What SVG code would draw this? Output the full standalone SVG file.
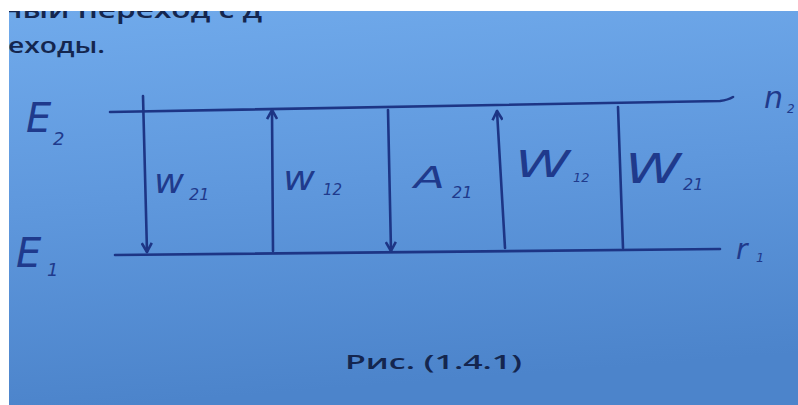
<svg xmlns="http://www.w3.org/2000/svg" width="798" height="405" viewBox="0 0 798 405">
<defs>
<linearGradient id="bg" x1="0" y1="0" x2="0.15" y2="1">
<stop offset="0" stop-color="#71abec"/>
<stop offset="0.5" stop-color="#5f98dd"/>
<stop offset="1" stop-color="#4c84cb"/>
</linearGradient>
<marker id="head" viewBox="0 0 12 12" refX="10" refY="6" markerWidth="12" markerHeight="12" markerUnits="userSpaceOnUse" orient="auto">
<path d="M1,1 L10,6 L1,11" fill="none" stroke="#1d3585" stroke-width="2.6" stroke-linejoin="round"/>
</marker>
<style>
.ink{fill:none;stroke:#1d3585;stroke-width:2.6;stroke-linecap:round}
.hand{font-family:"DejaVu Sans","Liberation Sans",sans-serif;font-style:italic;fill:#1f3a8c}
.print{font-family:"Open Sans","DejaVu Sans",sans-serif;font-weight:600;fill:#14264f}
</style>
</defs>
<rect width="798" height="405" fill="url(#bg)"/>
<text class="print" x="2" y="18" font-size="23" textLength="260" lengthAdjust="spacingAndGlyphs">ный переход с д</text>
<text class="print" x="8" y="53" font-size="22" textLength="97" lengthAdjust="spacingAndGlyphs">еходы.</text>
<rect x="0" y="0" width="798" height="11" fill="#ffffff"/>
<rect x="0" y="0" width="9" height="405" fill="#ffffff"/>

<g id="level-E2">
<path class="ink" d="M110,112 L720,101 Q728,100 733,97"/>
<text class="hand" x="26" y="132" font-size="40">E</text>
<text class="hand" x="53" y="145" font-size="18">2</text>
<text class="hand" x="764" y="108" font-size="30">n</text>
<text class="hand" x="787" y="113" font-size="12">2</text>
</g>
<g id="level-E1">
<path class="ink" d="M115,255 L720,249"/>
<text class="hand" x="16" y="267" font-size="40">E</text>
<text class="hand" x="47" y="276" font-size="18">1</text>
<text class="hand" x="736" y="259" font-size="28">r</text>
<text class="hand" x="756" y="262" font-size="13">1</text>
</g>

<g id="connectors">
<path class="ink" d="M143,96 L147,252" marker-end="url(#head)"/>
<path class="ink" d="M273,251 L272,110" marker-end="url(#head)"/>
<path class="ink" d="M388,110 L391,251" marker-end="url(#head)"/>
<path class="ink" d="M505,248 L497,111" marker-end="url(#head)"/>
<path class="ink" d="M618,107 L623,248"/>
</g>

<g id="label-w21">
<text class="hand" x="154" y="193" font-size="34" textLength="30" lengthAdjust="spacingAndGlyphs">w</text>
<text class="hand" x="189" y="200" font-size="16">21</text>
</g>
<g id="label-w12">
<text class="hand" x="283" y="190" font-size="34" textLength="32" lengthAdjust="spacingAndGlyphs">w</text>
<text class="hand" x="323" y="195" font-size="15">12</text>
</g>
<g id="label-A21">
<text class="hand" x="414" y="188" font-size="31" textLength="31" lengthAdjust="spacingAndGlyphs">A</text>
<text class="hand" x="452" y="198" font-size="16">21</text>
</g>
<g id="label-W12">
<text class="hand" x="515" y="177" font-size="38" textLength="55" lengthAdjust="spacingAndGlyphs">W</text>
<text class="hand" x="573" y="182" font-size="13">12</text>
</g>
<g id="label-W21">
<text class="hand" x="625" y="183" font-size="40" textLength="56" lengthAdjust="spacingAndGlyphs">W</text>
<text class="hand" x="683" y="190" font-size="16">21</text>
</g>

<text class="print" x="345" y="369" font-size="20" textLength="177" lengthAdjust="spacingAndGlyphs">Рис. (1.4.1)</text>
</svg>
